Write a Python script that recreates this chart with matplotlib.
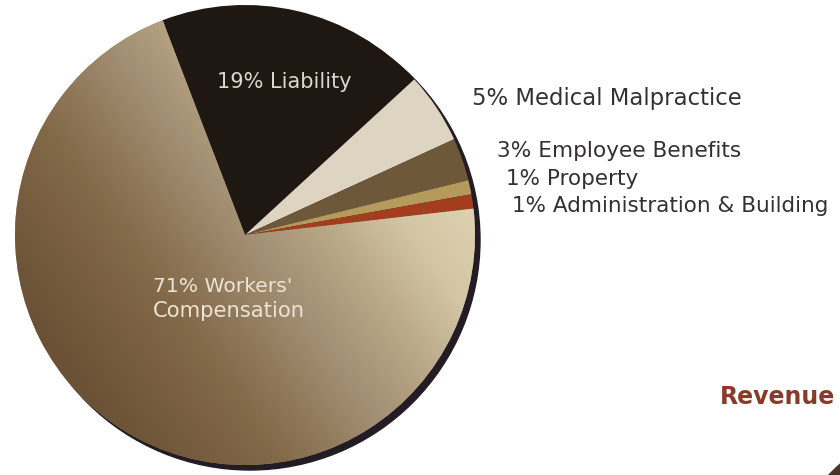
import matplotlib.pyplot as plt
import numpy as np
from matplotlib.colors import LinearSegmentedColormap
from matplotlib.patches import Circle

# insurance expense breakdown (percent)
categories = ["Liability", "Medical Malpractice", "Employee Benefits",
              "Property", "Administration & Building", "Workers' Compensation"]
shares = [19, 5, 3, 1, 1, 71]
slice_colors = ["#1f1711", "#ddd5c1", "#6d5939", "#b49b5c", "#a33d1d", "#a08c70"]

W, H = 840, 475
cx, cy, r = 245, H - 235, 230

fig = plt.figure(figsize=(W / 100, H / 100), dpi=100)
ax = fig.add_axes([0, 0, 1, 1])

# dark drop rim behind the pie
ax.add_patch(Circle((cx + 5, cy - 5), r, color="#231c24", zorder=1))
# edge of the next chart peeking in at the corner
ax.add_patch(Circle((1020, H - 660), 266, color="#4a3522", zorder=1))

wedges, _ = ax.pie(shares, colors=slice_colors, startangle=111,
                   counterclock=False, radius=r, center=(cx, cy),
                   frame=True, wedgeprops=dict(linewidth=0, zorder=2))

# shaded fill for the big workers' comp slice
shade = LinearSegmentedColormap.from_list("shade", [
    (0.0, "#6a5034"), (0.28, "#826948"), (0.5, "#a28e72"),
    (0.65, "#b9a787"), (0.8, "#d3c6a4"), (1.0, "#e0d5b6")])
gx, gy = np.meshgrid(np.linspace(cx - r, cx + r, 300), np.linspace(cy - r, cy + r, 300))
ang = np.deg2rad(35)
t = ((gx - cx) * np.cos(ang) + (gy - cy) * np.sin(ang)) / r
im = ax.imshow(t, extent=(cx - r, cx + r, cy - r, cy + r), origin="lower",
               cmap=shade, vmin=-1, vmax=1, zorder=3, interpolation="bilinear")
im.set_clip_path(wedges[5])

ax.set_xlim(0, W)
ax.set_ylim(0, H)
ax.set_aspect("equal")
ax.axis("off")

font = "DejaVu Sans"
ax.text(284, H - 82, "19% Liability", color="#ddd6cc", fontsize=15,
        family=font, ha="center", va="center", zorder=5)
ax.text(223, H - 286, "71% Workers'", color="#ece4d6", fontsize=14.6,
        family=font, ha="center", va="center", zorder=5)
ax.text(229, H - 311, "Compensation", color="#ece4d6", fontsize=15.2,
        family=font, ha="center", va="center", zorder=5)

labels = ["5% Medical Malpractice", "3% Employee Benefits", "1% Property",
          "1% Administration & Building"]
label_x = [472, 497, 506, 512]
label_y = [99, 151, 179, 206]
label_size = [16.4, 15.6, 15.5, 15.5]
for txt, lx, ly, fs in zip(labels, label_x, label_y, label_size):
    ax.text(lx, H - ly, txt, color="#333030", fontsize=fs, family=font,
            ha="left", va="center", zorder=5)

ax.text(720, H - 397, "Revenue", color="#8a3a26", fontsize=17,
        family=font, fontweight="bold", ha="left", va="center", zorder=5)

fig.savefig("out.png", dpi=100, facecolor="white")
